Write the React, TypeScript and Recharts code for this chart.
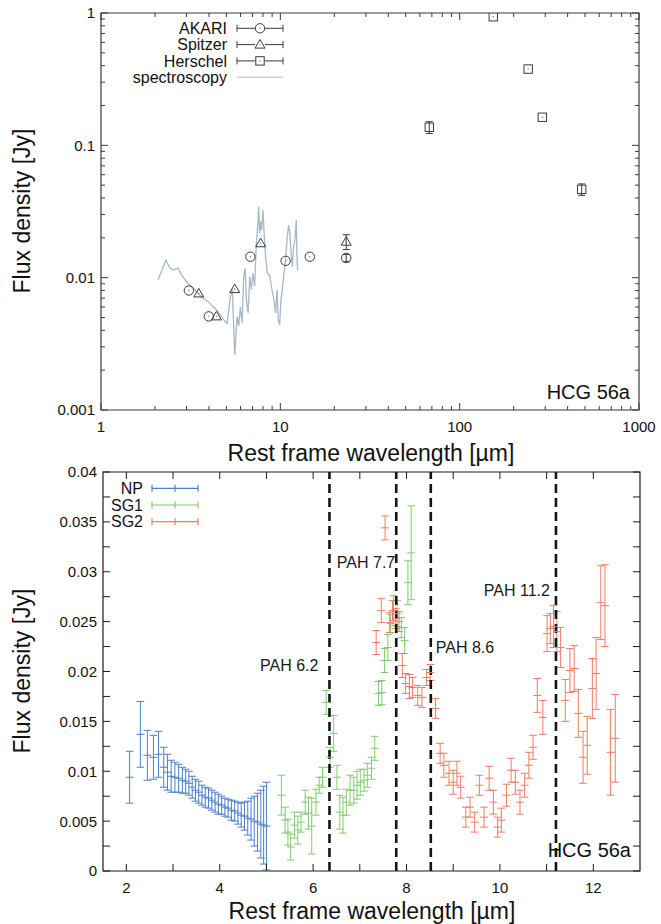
import React from 'react';
import {
  ScatterChart,
  Scatter,
  XAxis,
  YAxis,
  ErrorBar,
  ReferenceLine,
  ReferenceArea,
  ReferenceDot,
} from 'recharts';

const FONT = '"Liberation Sans", Arial, Helvetica, sans-serif';

// ---------------- top panel data (SED, log-log) ----------------
const akariWl = [3.09, 3.99, 6.81, 10.7, 14.6, 23.3];
const akariFlux = [0.008, 0.0051, 0.0144, 0.0134, 0.0144, 0.0141];
const akariErr = [0, 0, 0, 0, 0, 0.0009];

const spitzerWl = [3.51, 4.4, 5.57, 7.77, 23.3];
const spitzerFlux = [0.0076, 0.0051, 0.0082, 0.0182, 0.0187];
const spitzerErr = [0, 0, 0, 0, 0.0024];

const herschelWl = [67.7, 154, 241, 289, 479];
const herschelFlux = [0.137, 0.937, 0.377, 0.163, 0.0465];
const herschelErr = [0.014, 0, 0, 0, 0.0046];

const specWl = [2.08, 2.3, 2.42, 2.53, 2.69, 2.81, 3.0, 3.13, 3.34, 3.48, 3.63, 3.79, 3.96, 4.13, 4.31, 4.5, 4.69, 4.9, 5.05, 5.27, 5.4, 5.57, 5.74, 5.86, 5.99, 6.12, 6.25, 6.36, 6.47, 6.61, 6.75, 6.89, 7.04, 7.19, 7.35, 7.48, 7.57, 7.67, 7.77, 7.87, 8.0, 8.14, 8.28, 8.46, 8.72, 8.98, 9.22, 9.41, 9.58, 9.74, 9.91, 10.08, 10.25, 10.43, 10.66, 10.89, 11.12, 11.31, 11.51, 11.66, 11.86, 12.06, 12.27, 12.38, 12.49];
const specFlux = [0.0096, 0.0136, 0.0118, 0.0114, 0.0118, 0.0105, 0.0093, 0.0088, 0.0081, 0.0076, 0.0072, 0.0068, 0.0066, 0.0062, 0.0059, 0.0055, 0.0051, 0.0047, 0.0045, 0.0072, 0.0081, 0.0026, 0.0051, 0.0043, 0.006, 0.0045, 0.0102, 0.0118, 0.0068, 0.0054, 0.0102, 0.0081, 0.0108, 0.0086, 0.0182, 0.0243, 0.0344, 0.0216, 0.0265, 0.0229, 0.0325, 0.0204, 0.0144, 0.0108, 0.0104, 0.0081, 0.0068, 0.0054, 0.0081, 0.0048, 0.0044, 0.0068, 0.0081, 0.0102, 0.0128, 0.0193, 0.025, 0.0216, 0.0144, 0.0121, 0.0172, 0.0193, 0.0273, 0.0144, 0.0114];

const topXMajor = [1, 10, 100, 1000];
const topXLabels = ['1', '10', '100', '1000'];
const topXMinor = [2, 3, 4, 5, 6, 7, 8, 9, 20, 30, 40, 50, 60, 70, 80, 90, 200, 300, 400, 500, 600, 700, 800, 900];
const topYMajor = [0.001, 0.01, 0.1, 1];
const topYLabels = ['0.001', '0.01', '0.1', '1'];
const topYMinor = [0.002, 0.003, 0.004, 0.005, 0.006, 0.007, 0.008, 0.009, 0.02, 0.03, 0.04, 0.05, 0.06, 0.07, 0.08, 0.09, 0.2, 0.3, 0.4, 0.5, 0.6, 0.7, 0.8, 0.9];

// ---------------- bottom panel data (spectra) ----------------
const npWl = [2.07, 2.3, 2.45, 2.58, 2.69, 2.8, 2.88, 2.96, 3.04, 3.12, 3.2, 3.27, 3.34, 3.41, 3.48, 3.55, 3.62, 3.69, 3.76, 3.83, 3.9, 3.97, 4.04, 4.11, 4.18, 4.25, 4.32, 4.39, 4.46, 4.53, 4.6, 4.67, 4.74, 4.81, 4.88, 4.94, 5.0];
const npFlux = [0.0094, 0.0137, 0.0116, 0.0114, 0.0117, 0.0104, 0.0099, 0.0095, 0.0094, 0.0093, 0.0091, 0.009, 0.0088, 0.0084, 0.0081, 0.0079, 0.0076, 0.0074, 0.0073, 0.0071, 0.0069, 0.0067, 0.0066, 0.0064, 0.0063, 0.0061, 0.006, 0.0058, 0.0056, 0.0055, 0.0053, 0.0052, 0.005, 0.0049, 0.0047, 0.0046, 0.0045];
const npErr = [0.0026, 0.0033, 0.0025, 0.0022, 0.0023, 0.002, 0.0018, 0.0016, 0.0015, 0.0014, 0.0013, 0.0012, 0.0012, 0.0011, 0.0011, 0.0011, 0.001, 0.001, 0.001, 0.001, 0.001, 0.001, 0.0009, 0.0009, 0.0009, 0.001, 0.001, 0.0011, 0.0012, 0.0014, 0.0017, 0.0021, 0.0025, 0.0029, 0.0034, 0.0039, 0.0044];

const sg1Wl = [5.32, 5.4, 5.46, 5.52, 5.6, 5.67, 5.74, 5.83, 5.9, 5.97, 6.06, 6.13, 6.2, 6.28, 6.36, 6.44, 6.51, 6.57, 6.64, 6.71, 6.79, 6.87, 6.94, 7.01, 7.09, 7.16, 7.25, 7.32, 7.4, 7.47, 7.53, 7.6, 7.66, 7.72, 7.8, 7.89, 7.96, 8.03, 8.1];
const sg1Flux = [0.0076, 0.0051, 0.0039, 0.0024, 0.0046, 0.0041, 0.0049, 0.0069, 0.0058, 0.0045, 0.0069, 0.0086, 0.0094, 0.0169, 0.0114, 0.0138, 0.0094, 0.0059, 0.0056, 0.0069, 0.0081, 0.0081, 0.0086, 0.0089, 0.0091, 0.0096, 0.0103, 0.0123, 0.0178, 0.0179, 0.0211, 0.0224, 0.0248, 0.0261, 0.0258, 0.0244, 0.0231, 0.0289, 0.0319];
const sg1Err = [0.002, 0.0013, 0.0013, 0.0013, 0.0013, 0.0014, 0.001, 0.0012, 0.0016, 0.0028, 0.0013, 0.0008, 0.001, 0.0012, 0.001, 0.0018, 0.0012, 0.0017, 0.0018, 0.0013, 0.0015, 0.0013, 0.0014, 0.0013, 0.0011, 0.0012, 0.0011, 0.0012, 0.0012, 0.0012, 0.0012, 0.0013, 0.0009, 0.0015, 0.0013, 0.001, 0.0013, 0.0022, 0.0047];

const sg2Wl = [7.35, 7.46, 7.54, 7.64, 7.7, 7.77, 7.84, 7.91, 7.98, 8.06, 8.13, 8.24, 8.33, 8.43, 8.51, 8.62, 8.72, 8.8, 8.91, 9.0, 9.08, 9.16, 9.27, 9.36, 9.46, 9.56, 9.66, 9.77, 9.86, 9.95, 10.03, 10.14, 10.24, 10.33, 10.43, 10.53, 10.62, 10.71, 10.8, 10.92, 11.01, 11.08, 11.15, 11.22, 11.3, 11.4, 11.5, 11.59, 11.68, 11.78, 11.87, 11.98, 12.06, 12.16, 12.25, 12.37, 12.47];
const sg2Flux = [0.0229, 0.0261, 0.0344, 0.0249, 0.0261, 0.0253, 0.025, 0.0206, 0.0188, 0.0185, 0.0184, 0.0176, 0.0174, 0.0194, 0.0199, 0.0163, 0.0118, 0.0106, 0.0098, 0.0089, 0.0098, 0.0084, 0.0054, 0.0064, 0.0049, 0.0086, 0.0054, 0.0093, 0.0069, 0.0044, 0.0051, 0.0076, 0.0101, 0.0089, 0.0069, 0.0086, 0.0106, 0.0124, 0.0176, 0.0154, 0.0238, 0.0243, 0.0245, 0.024, 0.0224, 0.0171, 0.0201, 0.0203, 0.0158, 0.0114, 0.0126, 0.0183, 0.0198, 0.0269, 0.0266, 0.0119, 0.0133];
const sg2Err = [0.0012, 0.0012, 0.0012, 0.001, 0.001, 0.001, 0.001, 0.0012, 0.001, 0.0012, 0.001, 0.001, 0.001, 0.0008, 0.0008, 0.001, 0.001, 0.0012, 0.0012, 0.0012, 0.0012, 0.0011, 0.001, 0.001, 0.001, 0.001, 0.001, 0.0012, 0.0012, 0.001, 0.0012, 0.0011, 0.0012, 0.0012, 0.0012, 0.0012, 0.0013, 0.0012, 0.0017, 0.0017, 0.0018, 0.0015, 0.0021, 0.002, 0.002, 0.0021, 0.0022, 0.0023, 0.0024, 0.0026, 0.0029, 0.003, 0.0036, 0.0037, 0.0041, 0.0043, 0.0044];

const pahWl = [6.35, 7.78, 8.52, 11.2];
const pahLabels = ['PAH 6.2', 'PAH 7.7', 'PAH 8.6', 'PAH 11.2'];
const pahLabelFlux = [0.0206, 0.0309, 0.0224, 0.0281];
const pahLabelSide = ['left', 'left', 'right', 'left'];
const pahLabelGap = [11, 1, 5, 6];

const botXMajor = [2, 4, 6, 8, 10, 12];
const botXLabels = ['2', '4', '6', '8', '10', '12'];
const botXMinor = [3, 5, 7, 9, 11];
const botYMajor = [0, 0.005, 0.01, 0.015, 0.02, 0.025, 0.03, 0.035, 0.04];
const botYLabels = ['0', '0.005', '0.01', '0.015', '0.02', '0.025', '0.03', '0.035', '0.04'];
const botYMinor = [0.0025, 0.0075, 0.0125, 0.0175, 0.0225, 0.0275, 0.0325, 0.0375];

// ---------------- styles ----------------
const MARK = '#3a3a3a';
const AX_T = '#3b3b3b';
const AX_B = '#1c1c1c';
const SPEC = '#a9b8c7';
const NP_C = '#4d7fcb';
const SG1_C = '#80cc70';
const SG2_C = '#f37a62';
const TXT = '#111';

const TOP_H = 440;
const TOP_PLOT_TOP = 13;
const TOP_PLOT_RIGHT = 639;
const BOT_TOP = 440;
const BOT_H = 924 - BOT_TOP;
const BOT_PLOT_TOP = 472 - BOT_TOP;
const BOT_PLOT_RIGHT = 640;

type P = { x: number; y: number; e: number };
const zip = (xs: number[], ys: number[], es: number[]): P[] => xs.map((x, i) => ({ x, y: ys[i], e: es[i] }));

const akariData = zip(akariWl, akariFlux, akariErr);
const spitzerData = zip(spitzerWl, spitzerFlux, spitzerErr);
const herschelData = zip(herschelWl, herschelFlux, herschelErr);
const specData = specWl.map((x, i) => ({ x, y: specFlux[i] }));
const npData = zip(npWl, npFlux, npErr);
const sg1Data = zip(sg1Wl, sg1Flux, sg1Err);
const sg2Data = zip(sg2Wl, sg2Flux, sg2Err);

const same = (a: number, b: number) => Math.abs(a - b) <= Math.abs(a) * 1e-6 + 1e-12;

function makeXTick(majors: number[], labels: string[], majorLen: number, minorLen: number, plotTop: number, color: string) {
  return (props: any) => {
    const { x, y, payload } = props;
    const idx = majors.findIndex((m) => same(m, payload.value));
    const len = idx >= 0 ? majorLen : minorLen;
    return (
      <g>
        <line x1={x} x2={x} y1={y} y2={y - len} stroke={color} strokeWidth={1} />
        <line x1={x} x2={x} y1={plotTop} y2={plotTop + len} stroke={color} strokeWidth={1} />
        {idx >= 0 && (
          <text x={x} y={y + 22} textAnchor="middle" fontSize={15} fontFamily={FONT} fill={TXT}>
            {labels[idx]}
          </text>
        )}
      </g>
    );
  };
}

function makeYTick(majors: number[], labels: string[], majorLen: number, minorLen: number, plotRight: number, color: string) {
  return (props: any) => {
    const { x, y, payload } = props;
    const idx = majors.findIndex((m) => same(m, payload.value));
    const len = idx >= 0 ? majorLen : minorLen;
    return (
      <g>
        <line x1={x} x2={x + len} y1={y} y2={y} stroke={color} strokeWidth={1} />
        <line x1={plotRight} x2={plotRight - len} y1={y} y2={y} stroke={color} strokeWidth={1} />
        {idx >= 0 && (
          <text x={x - 6} y={y} dy="0.36em" textAnchor="end" fontSize={15} fontFamily={FONT} fill={TXT}>
            {labels[idx]}
          </text>
        )}
      </g>
    );
  };
}

const topXTick = makeXTick(topXMajor, topXLabels, 7, 4, TOP_PLOT_TOP, AX_T);
const topYTick = makeYTick(topYMajor, topYLabels, 7, 4, TOP_PLOT_RIGHT, AX_T);
const botXTick = makeXTick(botXMajor, botXLabels, 7, 7, BOT_PLOT_TOP, AX_B);
const botYTick = makeYTick(botYMajor, botYLabels, 7, 7, BOT_PLOT_RIGHT, AX_B);

const emptyShape = () => <g />;

const circleMark = (cx: number, cy: number) => (
  <g>
    <circle cx={cx} cy={cy} r={4.7} fill="none" stroke={MARK} strokeWidth={1} />
    <circle cx={cx} cy={cy} r={0.7} fill="#777" />
  </g>
);
const triMark = (cx: number, cy: number) => (
  <g>
    <polygon
      points={`${cx},${cy - 5} ${cx - 5},${cy + 3.5} ${cx + 5},${cy + 3.5}`}
      fill="none"
      stroke={MARK}
      strokeWidth={1}
    />
    <circle cx={cx} cy={cy} r={0.7} fill="#777" />
  </g>
);
const squareMark = (cx: number, cy: number) => (
  <g>
    <rect x={cx - 4.2} y={cy - 4.2} width={8.4} height={8.4} fill="none" stroke={MARK} strokeWidth={1} />
    <circle cx={cx} cy={cy} r={0.7} fill="#777" />
  </g>
);

const CircleShape = (p: any) => circleMark(p.cx, p.cy);
const TriShape = (p: any) => triMark(p.cx, p.cy);
const SquareShape = (p: any) => squareMark(p.cx, p.cy);

const hTick = (color: string) => (p: any) => (
  <line x1={p.cx - 4} x2={p.cx + 4} y1={p.cy} y2={p.cy} stroke={color} strokeWidth={1} />
);

const topLegend = [
  { name: 'AKARI', mark: circleMark, bars: true, color: MARK },
  { name: 'Spitzer', mark: triMark, bars: true, color: MARK },
  { name: 'Herschel', mark: squareMark, bars: true, color: MARK },
  { name: 'spectroscopy', mark: null, bars: false, color: SPEC },
];
const botLegend = [
  { name: 'NP', color: NP_C },
  { name: 'SG1', color: SG1_C },
  { name: 'SG2', color: SG2_C },
];

function Overlay() {
  return (
    <svg width={661} height={924} style={{ position: 'absolute', left: 0, top: 0, pointerEvents: 'none' }}>
      {/* axis titles */}
      <text x={30} y={211} transform="rotate(-90 30 211)" textAnchor="middle" fontSize={23} fontFamily={FONT} fill={TXT}>
        Flux density [Jy]
      </text>
      <text x={371} y={461} textAnchor="middle" fontSize={23} fontFamily={FONT} fill={TXT}>
        Rest frame wavelength [µm]
      </text>
      <text x={30} y={671} transform="rotate(-90 30 671)" textAnchor="middle" fontSize={23} fontFamily={FONT} fill={TXT}>
        Flux density [Jy]
      </text>
      <text x={372} y={919} textAnchor="middle" fontSize={23} fontFamily={FONT} fill={TXT}>
        Rest frame wavelength [µm]
      </text>
      {/* object names */}
      <text x={630} y={399} textAnchor="end" fontSize={20} fontFamily={FONT} fill={TXT}>
        HCG 56a
      </text>
      <text x={631} y={857} textAnchor="end" fontSize={20} fontFamily={FONT} fill={TXT}>
        HCG 56a
      </text>
      {/* top legend */}
      {topLegend.map((r, i) => {
        const y = 28.3 + i * 16.3;
        return (
          <g key={r.name}>
            <text x={227} y={y} dy="0.36em" textAnchor="end" fontSize={16} fontFamily={FONT} fill={TXT}>
              {r.name}
            </text>
            <line x1={237} x2={283} y1={y} y2={y} stroke={r.color} strokeWidth={1} />
            {r.bars && <line x1={237} x2={237} y1={y - 3.5} y2={y + 3.5} stroke={r.color} strokeWidth={1} />}
            {r.bars && <line x1={283} x2={283} y1={y - 3.5} y2={y + 3.5} stroke={r.color} strokeWidth={1} />}
            {r.mark && (
              <g>
                <rect x={255} y={y - 5} width={10} height={10} fill="#fff" />
                {r.mark(260, y)}
              </g>
            )}
          </g>
        );
      })}
      {/* bottom legend */}
      {botLegend.map((r, i) => {
        const y = 488.3 + i * 16.7;
        return (
          <g key={r.name}>
            <text x={143} y={y} dy="0.36em" textAnchor="end" fontSize={16} fontFamily={FONT} fill={TXT}>
              {r.name}
            </text>
            <line x1={152} x2={198} y1={y} y2={y} stroke={r.color} strokeWidth={1.2} />
            <line x1={152} x2={152} y1={y - 3.5} y2={y + 3.5} stroke={r.color} strokeWidth={1.2} />
            <line x1={175} x2={175} y1={y - 3.5} y2={y + 3.5} stroke={r.color} strokeWidth={1.2} />
            <line x1={198} x2={198} y1={y - 3.5} y2={y + 3.5} stroke={r.color} strokeWidth={1.2} />
          </g>
        );
      })}
    </svg>
  );
}

export default function App() {
  return (
    <div style={{ position: 'absolute', left: 0, top: 0, width: 661, height: 924, background: '#ffffff', overflow: 'hidden' }}>
      <div style={{ position: 'absolute', left: 0, top: 0 }}>
        <ScatterChart width={661} height={TOP_H} margin={{ top: TOP_PLOT_TOP, right: 661 - TOP_PLOT_RIGHT, bottom: 0, left: 0 }}>
          <XAxis
            type="number"
            dataKey="x"
            scale="log"
            domain={[1, 1000]}
            allowDataOverflow
            ticks={[...topXMajor, ...topXMinor]}
            interval={0}
            tick={topXTick}
            tickLine={false}
            axisLine={false}
            tickSize={0}
            tickMargin={0}
            height={TOP_H - 410}
          />
          <YAxis
            type="number"
            dataKey="y"
            scale="log"
            domain={[0.001, 1]}
            allowDataOverflow
            ticks={[...topYMajor, ...topYMinor]}
            interval={0}
            tick={topYTick}
            tickLine={false}
            axisLine={false}
            tickSize={0}
            tickMargin={0}
            width={101}
          />
          <ReferenceArea x1={1} x2={1000} y1={0.001} y2={1} fill="none" stroke={AX_T} strokeWidth={1.2} />
          <Scatter
            name="spectroscopy"
            data={specData}
            line={{ stroke: SPEC, strokeWidth: 1.3 }}
            shape={emptyShape}
            isAnimationActive={false}
          />
          <Scatter name="AKARI-err" data={akariData.filter((d) => d.e > 0)} shape={emptyShape} isAnimationActive={false}>
            <ErrorBar dataKey="e" direction="y" width={3.5} stroke={MARK} strokeWidth={1} />
          </Scatter>
          <Scatter name="Spitzer-err" data={spitzerData.filter((d) => d.e > 0)} shape={emptyShape} isAnimationActive={false}>
            <ErrorBar dataKey="e" direction="y" width={3.5} stroke={MARK} strokeWidth={1} />
          </Scatter>
          <Scatter name="Herschel-err" data={herschelData.filter((d) => d.e > 0)} shape={emptyShape} isAnimationActive={false}>
            <ErrorBar dataKey="e" direction="y" width={3.5} stroke={MARK} strokeWidth={1} />
          </Scatter>
          <Scatter name="AKARI" data={akariData} shape={CircleShape} isAnimationActive={false} />
          <Scatter name="Spitzer" data={spitzerData} shape={TriShape} isAnimationActive={false} />
          <Scatter name="Herschel" data={herschelData} shape={SquareShape} isAnimationActive={false} />
        </ScatterChart>
      </div>
      <div style={{ position: 'absolute', left: 0, top: BOT_TOP }}>
        <ScatterChart width={661} height={BOT_H} margin={{ top: BOT_PLOT_TOP, right: 661 - BOT_PLOT_RIGHT, bottom: 0, left: 0 }}>
          <XAxis
            type="number"
            dataKey="x"
            domain={[1.5, 13]}
            allowDataOverflow
            ticks={[...botXMajor, ...botXMinor]}
            interval={0}
            tick={botXTick}
            tickLine={false}
            axisLine={false}
            tickSize={0}
            tickMargin={0}
            height={924 - 871}
          />
          <YAxis
            type="number"
            dataKey="y"
            domain={[0, 0.04]}
            allowDataOverflow
            ticks={[...botYMajor, ...botYMinor]}
            interval={0}
            tick={botYTick}
            tickLine={false}
            axisLine={false}
            tickSize={0}
            tickMargin={0}
            width={103}
          />
          <ReferenceArea x1={1.5} x2={13} y1={0} y2={0.04} fill="none" stroke={AX_B} strokeWidth={1.2} />
          <Scatter name="NP" data={npData} shape={hTick(NP_C)} isAnimationActive={false}>
            <ErrorBar dataKey="e" direction="y" width={3.8} stroke={NP_C} strokeWidth={1} />
          </Scatter>
          <Scatter name="SG1" data={sg1Data} shape={hTick(SG1_C)} isAnimationActive={false}>
            <ErrorBar dataKey="e" direction="y" width={3.8} stroke={SG1_C} strokeWidth={1} />
          </Scatter>
          <Scatter name="SG2" data={sg2Data} shape={hTick(SG2_C)} isAnimationActive={false}>
            <ErrorBar dataKey="e" direction="y" width={3.8} stroke={SG2_C} strokeWidth={1} />
          </Scatter>
          {pahWl.map((w) => (
            <ReferenceLine key={`l${w}`} x={w} stroke="#151515" strokeWidth={2.6} strokeDasharray="9 5" />
          ))}
          {pahWl.map((w, i) => (
            <ReferenceDot
              key={`d${w}`}
              x={w}
              y={pahLabelFlux[i]}
              r={0}
              fill="none"
              stroke="none"
              label={{
                value: pahLabels[i],
                position: pahLabelSide[i] as any,
                offset: pahLabelGap[i],
                fontSize: 16,
                fontFamily: FONT,
                fill: '#1a1a1a',
              }}
            />
          ))}
        </ScatterChart>
      </div>
      <Overlay />
    </div>
  );
}
